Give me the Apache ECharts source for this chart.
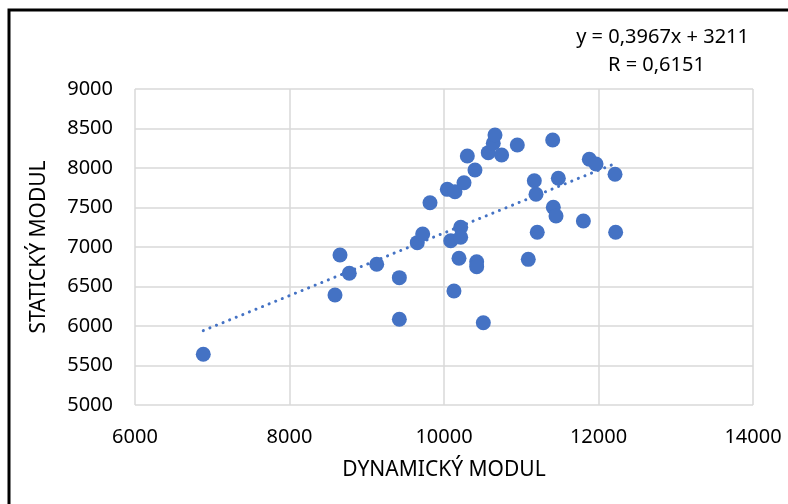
<!DOCTYPE html>
<html>
<head>
<meta charset="utf-8">
<script src="https://cdn.jsdelivr.net/npm/echarts@6/dist/echarts.min.js"></script>
<style>html,body{margin:0;padding:0;background:#fff;}#c{width:788px;height:504px;}</style>
</head>
<body>
<div id="c"></div>
<script>
const dynamicModul = [6884,8589,8654,8774,9129,9422,9422,9654,9724,9819,10043,10142,10087,10216,10216,10194,10129,10259,10302,10401,10423,10423,10509,10573,10638,10660,10746,10949,11091,11169,11191,11207,11407,11415,11450,11480,11804,11881,11968,12214,12222];
const statickyModul = [5642,6392,6899,6667,6781,6612,6085,7055,7165,7561,7730,7700,7080,7249,7123,6857,6443,7814,8152,7975,6814,6751,6042,8194,8313,8418,8165,8291,6844,7839,7667,7186,8354,7502,7392,7870,7329,8110,8051,7920,7186];
const trendSlope = 0.3967;
const trendIntercept = 3211;
const equationText = 'y = 0,3967x + 3211';
const rText = 'R = 0,6151';
const xTitle = 'DYNAMICKÝ MODUL';
const yTitle = 'STATICKÝ MODUL';

const points = dynamicModul.map((x, i) => [x, statickyModul[i]]);
const xMin = Math.min(...dynamicModul), xMax = Math.max(...dynamicModul);
const trend = [[xMin, trendSlope * xMin + trendIntercept], [xMax, trendSlope * xMax + trendIntercept]];

const FONT = 'Noto Sans';
const plain = v => String(v);
const chart = echarts.init(document.getElementById('c'), null, {renderer: 'canvas'});
chart.setOption({
  animation: false,
  backgroundColor: '#fff',
  grid: {left: 135, right: 35, top: 89, bottom: 99},
  xAxis: {
    type: 'value', min: 6000, max: 14000, interval: 2000,
    axisLine: {show: false}, axisTick: {show: false},
    splitLine: {show: true, lineStyle: {color: '#D9D9D9', width: 1.5}},
    axisLabel: {color: '#000', fontFamily: FONT, fontSize: 20, margin: 22, formatter: plain},
    name: xTitle, nameLocation: 'middle', nameGap: 55,
    nameTextStyle: {color: '#000', fontFamily: FONT, fontSize: 21}
  },
  yAxis: {
    type: 'value', min: 5000, max: 9000, interval: 500,
    axisLine: {show: false}, axisTick: {show: false},
    splitLine: {show: true, lineStyle: {color: '#D9D9D9', width: 1.5}},
    axisLabel: {color: '#000', fontFamily: FONT, fontSize: 20, margin: 22, formatter: plain},
    name: yTitle, nameLocation: 'middle', nameGap: 85, nameRotate: 90,
    nameTextStyle: {color: '#000', fontFamily: FONT, fontSize: 21}
  },
  series: [
    {
      type: 'line', data: trend, symbol: 'none', silent: true,
      lineStyle: {color: '#4472C4', width: 3, type: [0.1, 7], cap: 'round'},
      z: 1
    },
    {
      type: 'scatter', data: points, symbol: 'circle', symbolSize: 15,
      itemStyle: {color: '#4472C4', opacity: 1},
      z: 2
    }
  ],
  graphic: [
    {type: 'rect', shape: {x: 9, y: 10, width: 800, height: 520}, style: {fill: 'none', stroke: '#000', lineWidth: 3}, silent: true},
    {type: 'text', right: 39, top: 27, style: {text: equationText, fill: '#000', font: '20px "Noto Sans"'}},
    {type: 'text', left: 608, top: 55, style: {text: rText, fill: '#000', font: '20px "Noto Sans"'}}
  ]
});
</script>
</body>
</html>
